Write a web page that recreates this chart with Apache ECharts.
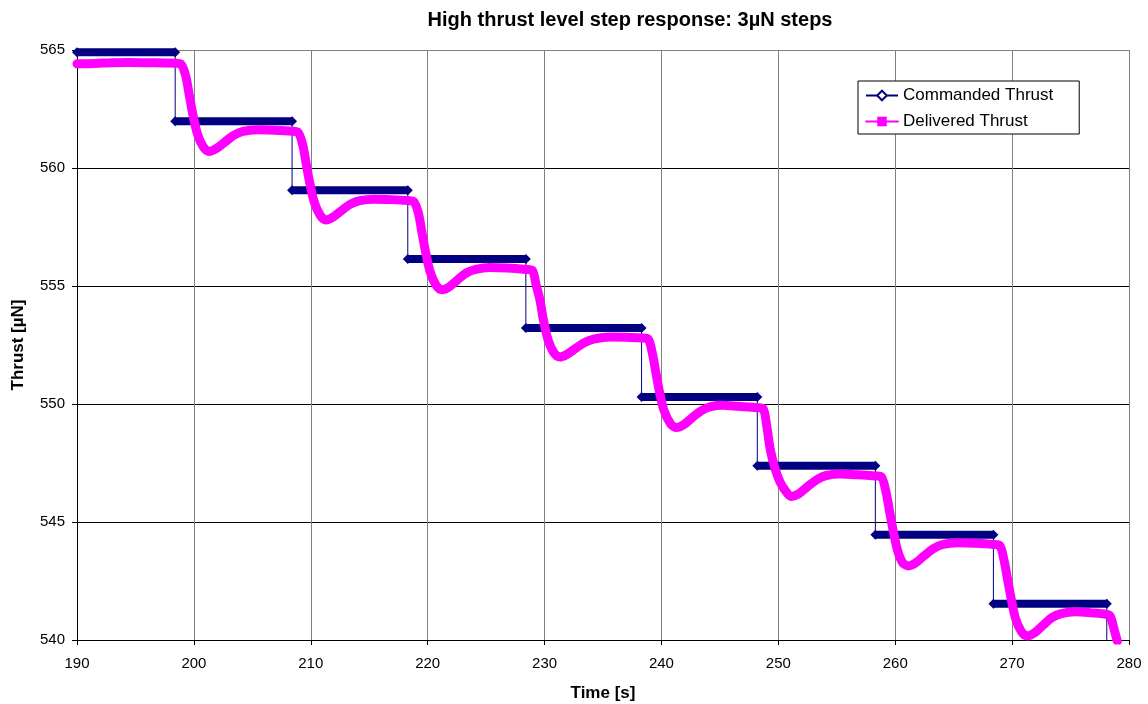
<!DOCTYPE html>
<html>
<head>
<meta charset="utf-8">
<script src="https://cdn.jsdelivr.net/npm/echarts@6/dist/echarts.min.js"></script>
<style>
html,body{margin:0;padding:0;background:#fff;}
#chart{width:1148px;height:704px;}
</style>
</head>
<body>
<div id="chart"></div>
<script>
// Commanded thrust: level i holds from stepTimes[i] to stepTimes[i+1]
const stepTimes = [190, 198.4, 208.4, 218.3, 228.4, 238.3, 248.2, 258.3, 268.4, 278.1, 279.0];
const commandedLevels = [564.9, 561.98, 559.06, 556.14, 553.22, 550.3, 547.38, 544.46, 541.54, 538.6];

// Delivered thrust samples
const deliveredTime = [
  190, 191.5, 193, 194.5, 196, 197.5, 198.4,
  198.9, 199.3, 199.6, 199.9, 200.3, 200.8, 201.3, 201.9, 202.7, 203.4, 204.2, 205.4, 206.9, 208.4,
  208.9, 209.3, 209.6, 209.9, 210.3, 210.8, 211.3, 211.9, 212.7, 213.4, 214.2, 215.4, 216.9, 218.3,
  218.8, 219.2, 219.5, 219.8, 220.2, 220.7, 221.2, 221.8, 222.6, 223.3, 224.1, 225.3, 226.8, 228.4,
  228.95, 229.3, 229.6, 229.9, 230.3, 230.8, 231.3, 231.9, 232.7, 233.4, 234.2, 235.6, 237.0, 238.3,
  238.85, 239.2, 239.5, 239.8, 240.2, 240.8, 241.3, 241.9, 242.7, 243.5, 244.3, 245.2, 246.6, 248.2,
  248.7, 249.0, 249.3, 249.7, 250.1, 250.5, 251.1, 251.7, 252.5, 253.3, 254.1, 255.3, 256.8, 258.3,
  258.8, 259.2, 259.5, 259.8, 260.2, 260.6, 261.1, 261.7, 262.5, 263.3, 264.1, 265.3, 266.8, 268.4,
  268.95, 269.3, 269.6, 269.9, 270.3, 270.8, 271.3, 271.9, 272.7, 273.4, 274.2, 275.4, 276.8, 278.1,
  278.4, 278.7, 279.0
];
const deliveredThrust = [
  564.42, 564.43, 564.46, 564.47, 564.46, 564.45, 564.44,
  564.40, 563.9, 563.1, 562.3, 561.45, 560.9, 560.7, 560.82, 561.12, 561.38, 561.55, 561.62, 561.6, 561.56,
  561.52, 561.0, 560.2, 559.4, 558.55, 558.0, 557.8, 557.92, 558.22, 558.47, 558.62, 558.68, 558.66, 558.62,
  558.58, 558.1, 557.3, 556.5, 555.62, 555.05, 554.84, 554.95, 555.28, 555.55, 555.7, 555.78, 555.76, 555.7,
  555.66, 555.0, 554.42, 553.57, 552.72, 552.17, 551.99, 552.1, 552.37, 552.6, 552.75, 552.84, 552.83, 552.8,
  552.76, 552.2, 551.4, 550.6, 549.75, 549.15, 549.0, 549.12, 549.45, 549.74, 549.9, 549.95, 549.9, 549.84,
  549.8, 549.1, 548.1, 547.3, 546.75, 546.4, 546.08, 546.18, 546.5, 546.8, 546.97, 547.03, 547.0, 546.95,
  546.92, 546.3, 545.5, 544.7, 543.8, 543.3, 543.14, 543.25, 543.58, 543.88, 544.05, 544.12, 544.1, 544.05,
  544.0, 543.4, 542.6, 541.8, 540.9, 540.35, 540.17, 540.3, 540.65, 540.95, 541.12, 541.2, 541.15, 541.08,
  541.0, 540.5, 539.95
];

const xTicks = {min: 190, max: 280, step: 10};
const yTicks = {min: 540, max: 565, step: 5};

// Build series data
const cmdLine = [];
const cmdBand = [];
for (let i = 0; i < commandedLevels.length; i++) {
  cmdLine.push([stepTimes[i], commandedLevels[i]]);
  cmdLine.push([stepTimes[i + 1], commandedLevels[i]]);
  cmdBand.push([stepTimes[i], commandedLevels[i]]);
  cmdBand.push([stepTimes[i + 1], commandedLevels[i]]);
  cmdBand.push([stepTimes[i + 1], '-']);
}
const delivered = deliveredTime.map((t, i) => [t, deliveredThrust[i]]);

const FONT = '"Liberation Sans", Arial, sans-serif';
const chart = echarts.init(document.getElementById('chart'), null, {renderer: 'canvas'});
chart.setOption({
  animation: false,
  backgroundColor: '#fff',
  title: {
    text: 'High thrust level step response: 3µN steps',
    left: 625, top: 5, textAlign: 'center',
    textStyle: {fontFamily: FONT, fontSize: 20, fontWeight: 'bold', color: '#000'}
  },
  grid: {left: 77, right: 19, top: 50, bottom: 64, show: false, containLabel: false, outerBoundsMode: 'none'},
  legend: {
    orient: 'vertical', left: 858, top: 81,
    padding: [6, 26, 4, 7],
    itemWidth: 32, itemHeight: 12, itemGap: 9, itemTextGap: 4,
    backgroundColor: '#fff', borderColor: '#000', borderWidth: 1, borderRadius: 0,
    data: ['Commanded Thrust', 'Delivered Thrust'],
    textStyle: {fontFamily: FONT, fontSize: 17, color: '#000'}
  },
  xAxis: {
    type: 'value', min: xTicks.min, max: xTicks.max, interval: xTicks.step,
    name: 'Time [s]', nameLocation: 'middle', nameGap: 45,
    nameTextStyle: {fontFamily: FONT, fontSize: 17, fontWeight: 'bold', color: '#000'},
    axisLine: {onZero: false, lineStyle: {color: '#000', width: 1}},
    axisTick: {show: true, inside: false, length: 5, lineStyle: {color: '#000'}},
    axisLabel: {fontFamily: FONT, fontSize: 15, color: '#000', margin: 16},
    splitLine: {show: true, lineStyle: {color: '#808080', width: 1}}
  },
  yAxis: {
    type: 'value', min: yTicks.min, max: yTicks.max, interval: yTicks.step,
    name: 'Thrust [µN]', nameLocation: 'middle', nameGap: 50, nameRotate: 90,
    nameTextStyle: {fontFamily: FONT, fontSize: 17, fontWeight: 'bold', color: '#000'},
    axisLine: {onZero: false, lineStyle: {color: '#000', width: 1}},
    axisTick: {show: true, inside: false, length: 5, lineStyle: {color: '#000'}},
    axisLabel: {fontFamily: FONT, fontSize: 15, color: '#000', margin: 12},
    splitLine: {show: true, lineStyle: {color: ['#000', '#000', '#000', '#000', '#000', '#808080'], width: 1}}
  },
  series: [
    {
      name: 'Commanded Thrust', type: 'line', data: cmdLine,
      symbol: 'emptyDiamond', symbolSize: 7, showSymbol: false,
      itemStyle: {color: '#000080', borderColor: '#000080'},
      lineStyle: {color: '#000080', width: 1},
      z: 2
    },
    {
      name: 'cmdBand', type: 'line', data: cmdBand, connectNulls: false,
      symbol: 'diamond', symbolSize: 10, showSymbol: true,
      itemStyle: {color: '#000080'},
      lineStyle: {color: '#000080', width: 8},
      z: 3, silent: true
    },
    {
      name: 'Delivered Thrust', type: 'line', data: delivered,
      smooth: 0.3,
      symbol: 'rect', symbolSize: 6, showSymbol: false,
      itemStyle: {color: '#FF00FF'},
      lineStyle: {color: '#FF00FF', width: 9, join: 'round', cap: 'round'},
      z: 4
    }
  ]
});
</script>
</body>
</html>
